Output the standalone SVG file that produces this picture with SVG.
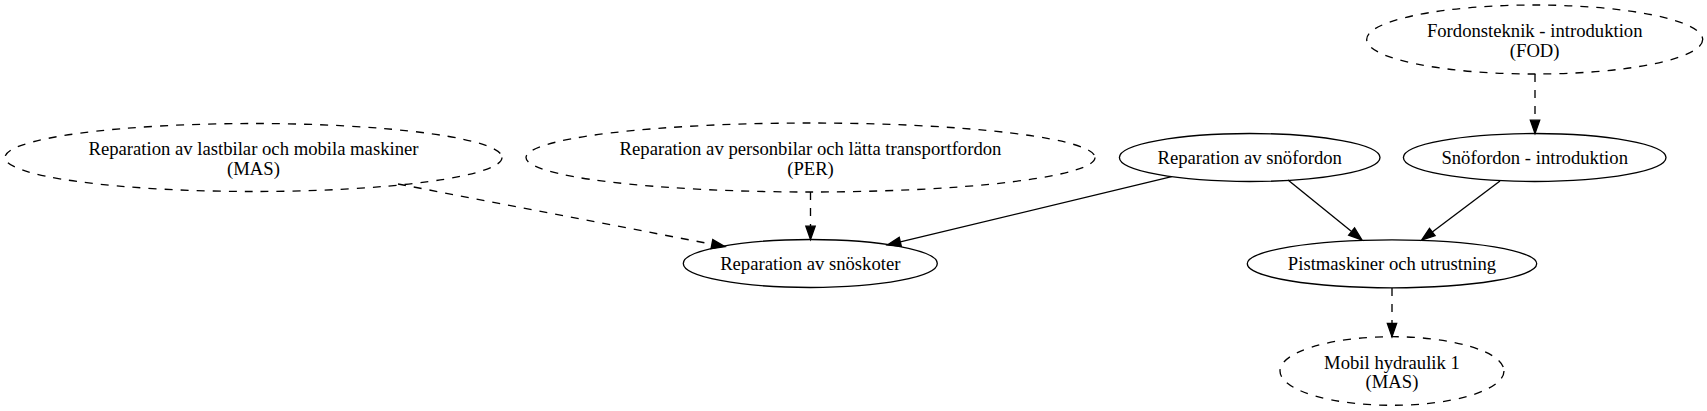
<svg xmlns="http://www.w3.org/2000/svg" width="1707" height="411" viewBox="0 0 1707 411">
<style>
.node ellipse{fill:none;stroke:#000;stroke-width:1.33}
.dashed ellipse{stroke-dasharray:8,8}
.node text{font-family:"Liberation Serif","Times New Roman",serif;font-size:18.67px;fill:#000;text-anchor:middle}
.edge{fill:none;stroke:#000;stroke-width:1.33}
.edge.d{stroke-dasharray:8,8}
</style>
<defs>
<marker id="arr" markerUnits="userSpaceOnUse" viewBox="0 0 13.33 9.33" markerWidth="13.33" markerHeight="9.33" refX="0" refY="4.67" orient="auto" overflow="visible">
<path d="M0,0 L13.33,4.67 L0,9.33 z" fill="#000" stroke="#000" stroke-width="1.33"/>
</marker>
</defs>
<rect width="1707" height="411" fill="#fff"/>
<g id="edges">
<path class="edge d" d="M398,184 L711.9,244.2" marker-end="url(#arr)"/>
<path class="edge d" d="M810.5,192 L810.5,226.2" marker-end="url(#arr)"/>
<path class="edge" d="M1171.7,176.7 L900.3,241.9" marker-end="url(#arr)"/>
<path class="edge d" d="M1535,74 L1535,120.2" marker-end="url(#arr)"/>
<path class="edge" d="M1288,180 L1351.6,231.6" marker-end="url(#arr)"/>
<path class="edge" d="M1500,181 L1432.3,232" marker-end="url(#arr)"/>
<path class="edge d" d="M1392,288 L1392,323.4" marker-end="url(#arr)"/>
</g>
<g id="node_MAS" class="node dashed">
<ellipse cx="253.5" cy="157.5" rx="248.5" ry="34"/>
<text x="253.5" y="155">Reparation av lastbilar och mobila maskiner</text>
<text x="253.5" y="175">(MAS)</text>
</g>
<g id="node_PER" class="node dashed">
<ellipse cx="810.5" cy="157.5" rx="284.5" ry="34.5"/>
<text x="810.5" y="155">Reparation av personbilar och lätta transportfordon</text>
<text x="810.5" y="175">(PER)</text>
</g>
<g id="node_snofordon" class="node">
<ellipse cx="1249.7" cy="157.5" rx="130.3" ry="24"/>
<text x="1249.7" y="164">Reparation av snöfordon</text>
</g>
<g id="node_FOD" class="node dashed">
<ellipse cx="1534.7" cy="39.5" rx="168" ry="34.5"/>
<text x="1534.7" y="37.3">Fordonsteknik - introduktion</text>
<text x="1534.7" y="57.3">(FOD)</text>
</g>
<g id="node_snofordon_intro" class="node">
<ellipse cx="1534.7" cy="157.5" rx="131.3" ry="24"/>
<text x="1534.7" y="164">Snöfordon - introduktion</text>
</g>
<g id="node_snoskoter" class="node">
<ellipse cx="810.3" cy="263.5" rx="127" ry="24"/>
<text x="810.3" y="270">Reparation av snöskoter</text>
</g>
<g id="node_pist" class="node">
<ellipse cx="1392" cy="263.8" rx="144.7" ry="24"/>
<text x="1392" y="270.3">Pistmaskiner och utrustning</text>
</g>
<g id="node_mobil" class="node dashed">
<ellipse cx="1392" cy="371" rx="112" ry="34.3"/>
<text x="1392" y="368.5">Mobil hydraulik 1</text>
<text x="1392" y="388">(MAS)</text>
</g>
</svg>
